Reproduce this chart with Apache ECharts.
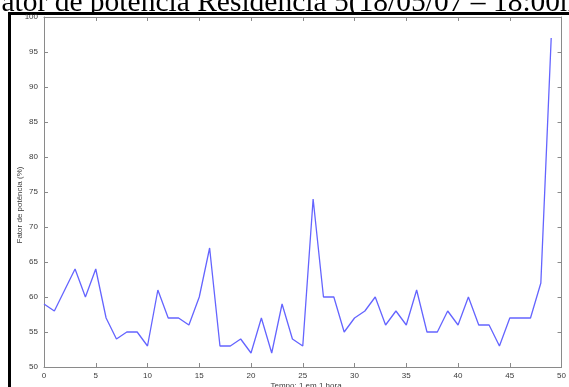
<!DOCTYPE html>
<html>
<head>
<meta charset="utf-8">
<title>Fator de potência Residência 5</title>
<script src="https://cdn.jsdelivr.net/npm/echarts@6/dist/echarts.min.js"></script>
<style>
  html, body { margin: 0; padding: 0; background: #fff; }
  #chart { width: 569px; height: 387px; }
</style>
</head>
<body>
<div id="chart"></div>
<script>
// Hourly samples (one reading per hour)
const hours = [0, 1, 2, 3, 4, 5, 6, 7, 8, 9,
               10, 11, 12, 13, 14, 15, 16, 17, 18, 19,
               20, 21, 22, 23, 24, 25, 26, 27, 28, 29,
               30, 31, 32, 33, 34, 35, 36, 37, 38, 39,
               40, 41, 42, 43, 44, 45, 46, 47, 48, 49];
// Power factor (%) for each hour
const powerFactor = [59, 58, 61, 64, 60, 64, 57, 54, 55, 55,
                     53, 61, 57, 57, 56, 60, 67, 53, 53, 54,
                     52, 57, 52, 59, 54, 53, 74, 60, 60, 55,
                     57, 58, 60, 56, 58, 56, 61, 55, 55, 58,
                     56, 60, 56, 56, 53, 57, 57, 57, 62, 97];
const xTicks = [0, 5, 10, 15, 20, 25, 30, 35, 40, 45, 50];
const yTicks = [50, 55, 60, 65, 70, 75, 80, 85, 90, 95, 100];

const titleText = 'Fator de potência Residência 5(18/05/07 – 18:00h';
const xName = 'Tempo: 1 em 1 hora';
const yName = 'Fator de potência (%)';

const axisGrey = '#8a8a8a';
const lineBlue = '#6464ff';
const labelStyle = { color: '#3a3a3a', fontSize: 8, fontFamily: 'Liberation Sans, Arial, sans-serif' };

const chart = echarts.init(document.getElementById('chart'), null, { renderer: 'canvas' });

const xMin = xTicks[0], xMax = xTicks[xTicks.length - 1];
const yMin = yTicks[0], yMax = yTicks[yTicks.length - 1];
const xStep = xTicks[1] - xTicks[0];
const yStep = yTicks[1] - yTicks[0];

// Boxed axes with inward ticks on all four sides
function boxAxis(base, showLabel) {
  return Object.assign({
    type: 'value',
    axisLine: { show: true, onZero: false, lineStyle: { color: axisGrey, width: 1 } },
    axisTick: { show: true, inside: true, length: 4, lineStyle: { color: axisGrey, width: 1 } },
    splitLine: { show: false },
    axisLabel: Object.assign({ show: showLabel }, labelStyle)
  }, base);
}

chart.setOption({
  animation: false,
  backgroundColor: '#ffffff',
  grid: { left: 44, right: 3, top: 17, bottom: 20, containLabel: false },
  xAxis: [
    boxAxis({ position: 'bottom', min: xMin, max: xMax, interval: xStep,
              axisLabel: Object.assign({ show: true, margin: 5 }, labelStyle) }, true),
    boxAxis({ position: 'top', min: xMin, max: xMax, interval: xStep }, false)
  ],
  yAxis: [
    boxAxis({ position: 'left', min: yMin, max: yMax, interval: yStep,
              axisLabel: Object.assign({ show: true, margin: 6 }, labelStyle) }, true),
    boxAxis({ position: 'right', min: yMin, max: yMax, interval: yStep }, false)
  ],
  series: [{
    type: 'line',
    data: hours.map((h, i) => [h, powerFactor[i]]),
    showSymbol: false,
    lineStyle: { color: lineBlue, width: 1.3 },
    itemStyle: { color: lineBlue },
    silent: true
  }],
  graphic: [
    {
      type: 'text',
      left: -15, top: -12, z: -2,
      style: { text: titleText, font: '29.5px "Liberation Serif", "Times New Roman", serif', fill: '#000' }
    },
    {
      // framed white panel that holds the plot
      type: 'rect', z: -1,
      shape: { x: 9.5, y: 13.5, width: 700, height: 500 },
      style: { fill: '#ffffff', stroke: '#000', lineWidth: 3 }
    },
    {
      type: 'text',
      x: 306, y: 386,
      style: { text: xName, font: '8px "Liberation Sans", Arial, sans-serif', fill: '#3a3a3a',
               align: 'center', verticalAlign: 'middle' }
    },
    {
      type: 'text',
      x: 20, y: 205, rotation: Math.PI / 2,
      style: { text: yName, font: '8px "Liberation Sans", Arial, sans-serif', fill: '#3a3a3a',
               align: 'center', verticalAlign: 'middle' }
    }
  ]
});
</script>
</body>
</html>
